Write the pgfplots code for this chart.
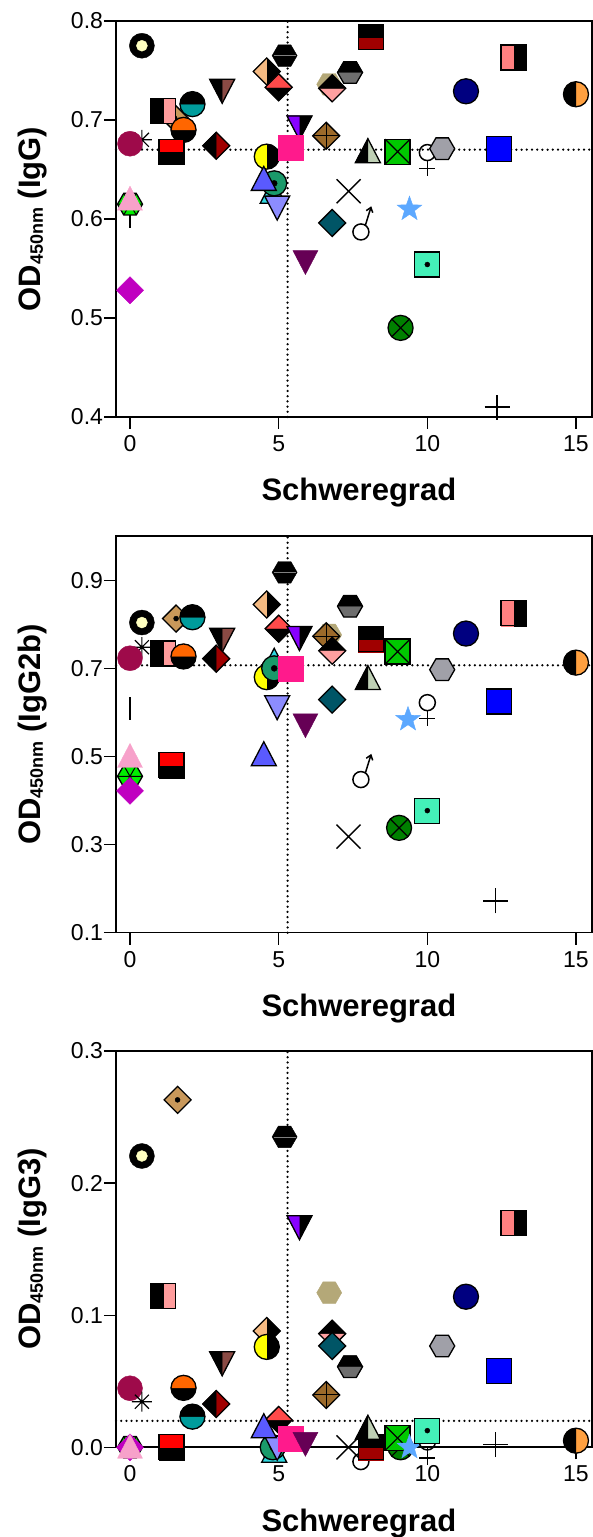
\documentclass[border=0pt]{standalone}
\usepackage{pgfplots}
\pgfplotsset{compat=1.18}
\usepackage{fontspec}
\setmainfont{Liberation Sans}
\usepackage{graphicx}

\definecolor{cRing}{HTML}{FFFFC0}
\definecolor{cMaroon}{HTML}{9E0A4A}
\definecolor{cSalmonL}{HTML}{FF9C9C}
\definecolor{cTanDot}{HTML}{C9985A}
\definecolor{cTeal}{HTML}{009C9C}
\definecolor{cOrange}{HTML}{FF6600}
\definecolor{cRed}{HTML}{FF0000}
\definecolor{cDarkRed}{HTML}{A00000}
\definecolor{cBrownT}{HTML}{8A4A44}
\definecolor{cTanL}{HTML}{F5BA82}
\definecolor{cRedL}{HTML}{FF4A4A}
\definecolor{cYellow}{HTML}{FFFF00}
\definecolor{cDeepPink}{HTML}{FF1A8C}
\definecolor{cBlueTri}{HTML}{5A5AFF}
\definecolor{cGreenDot}{HTML}{1A9A6A}
\definecolor{cCyan}{HTML}{30D8E0}
\definecolor{cLightBlue}{HTML}{8C8CFF}
\definecolor{cViolet}{HTML}{8800FF}
\definecolor{cPurple}{HTML}{660055}
\definecolor{cPinkTri}{HTML}{F7A1CA}
\definecolor{cBrightGreen}{HTML}{00EE00}
\definecolor{cMagenta}{HTML}{C000C0}
\definecolor{cSalmon}{HTML}{FF8080}
\definecolor{cNavy}{HTML}{000080}
\definecolor{cOrangeL}{HTML}{FFA040}
\definecolor{cGreyD}{HTML}{6E6E6E}
\definecolor{cTanHex}{HTML}{B4A878}
\definecolor{cPinkD}{HTML}{FFA0A0}
\definecolor{cBrown}{HTML}{9C6A2A}
\definecolor{cSage}{HTML}{BFD0B5}
\definecolor{cGreenSq}{HTML}{00C800}
\definecolor{cGreyHex}{HTML}{A0A0A8}
\definecolor{cBlue}{HTML}{0000FF}
\definecolor{cTealD}{HTML}{005566}
\definecolor{cStar}{HTML}{5CA8FF}
\definecolor{cAqua}{HTML}{44F0B8}
\definecolor{cGreenX}{HTML}{008000}

\tikzset{bd/.style={draw=black,line width=1.3pt}}
\newcommand\mk[1]{\begin{scope}[x=1pt,y=1pt]#1\end{scope}}
\def\SQ{(-12.5,-12.5) rectangle (12.5,12.5)}
\def\DI{(0,13.5)--(13.5,0)--(0,-13.5)--(-13.5,0)--cycle}
\def\DL{(0,13.5)--(-13.5,0)--(0,-13.5)--cycle}
\def\DT{(-13.5,0)--(0,13.5)--(13.5,0)--cycle}
\def\TU{(-12.5,-11)--(12.5,-11)--(0,13)--cycle}
\def\TUL{(-12.5,-11)--(0,-11)--(0,13)--cycle}
\def\TD{(-12.5,11)--(12.5,11)--(0,-13)--cycle}
\def\TDL{(-12.5,11)--(0,11)--(0,-13)--cycle}
\def\HX{(12.5,0)--(6.25,10.8)--(-6.25,10.8)--(-12.5,0)--(-6.25,-10.8)--(6.25,-10.8)--cycle}
\def\HXT{(12.5,0)--(6.25,10.8)--(-6.25,10.8)--(-12.5,0)--cycle}
\def\CI{(0,0) circle (12.5)}
\def\CT{(12.5,0) arc[start angle=0,end angle=180,radius=12.5]--cycle}
\def\CL{(0,12.5) arc[start angle=90,end angle=270,radius=12.5]--cycle}

\pgfdeclareplotmark{ring}{\mk{\fill[black]\CI; \fill[cRing](0,0) circle (5.5);}}
\pgfdeclareplotmark{maroonC}{\mk{\fill[cMaroon]\CI;}}
\pgfdeclareplotmark{sqBP}{\mk{\fill[cSalmonL]\SQ; \fill[black](-12.5,-12.5) rectangle (0,12.5); \draw[bd]\SQ;}}
\pgfdeclareplotmark{tanDiaDot}{\mk{\filldraw[fill=cTanDot,bd]\DI; \fill[black](0,0) circle (2.5);}}
\pgfdeclareplotmark{cBT}{\mk{\fill[cTeal]\CI; \fill[black]\CT; \draw[bd]\CI;}}
\pgfdeclareplotmark{cOB}{\mk{\fill[black]\CI; \fill[cOrange]\CT; \draw[bd]\CI;}}
\pgfdeclareplotmark{sqRB}{\mk{\fill[black]\SQ; \fill[cRed](-12.5,0) rectangle (12.5,12.5); \draw[bd]\SQ;}}
\pgfdeclareplotmark{dBR}{\mk{\fill[cDarkRed]\DI; \fill[black]\DL; \draw[bd]\DI;}}
\pgfdeclareplotmark{tdBB}{\mk{\fill[cBrownT]\TD; \fill[black]\TDL; \draw[bd]\TD;}}
\pgfdeclareplotmark{dTB}{\mk{\fill[black]\DI; \fill[cTanL]\DL; \draw[bd]\DI;}}
\pgfdeclareplotmark{hexBlk}{\mk{\fill[black]\HX; \draw[line width=0.6pt,gray](-11,0)--(11,0);}}
\pgfdeclareplotmark{dRB}{\mk{\fill[black]\DI; \fill[cRedL]\DT; \draw[bd]\DI;}}
\pgfdeclareplotmark{cYB}{\mk{\fill[black]\CI; \fill[cYellow]\CL; \draw[bd]\CI;}}
\pgfdeclareplotmark{pinkSq}{\mk{\fill[cDeepPink]\SQ;}}
\pgfdeclareplotmark{triBlue}{\mk{\filldraw[fill=cBlueTri,bd]\TU;}}
\pgfdeclareplotmark{cGreenDot}{\mk{\filldraw[fill=cGreenDot,bd]\CI; \fill[black](0,0) circle (3);}}
\pgfdeclareplotmark{triCyan}{\mk{\filldraw[fill=cCyan,bd]\TU;}}
\pgfdeclareplotmark{tdLB}{\mk{\filldraw[fill=cLightBlue,bd]\TD;}}
\pgfdeclareplotmark{tdVB}{\mk{\fill[black]\TD; \fill[cViolet]\TDL; \draw[bd]\TD;}}
\pgfdeclareplotmark{tdPurple}{\mk{\fill[cPurple]\TD;}}
\pgfdeclareplotmark{triPink}{\mk{\fill[cPinkTri]\TU;}}
\pgfdeclareplotmark{hexGreen}{\mk{\filldraw[fill=cBrightGreen,bd]\HX; \draw[line width=1pt](-12.5,0)--(12.5,0) (-6.25,10.8)--(6.25,-10.8) (6.25,10.8)--(-6.25,-10.8);}}
\pgfdeclareplotmark{bar}{\mk{\draw[line width=1.4pt](0,-11.5)--(0,11.5);}}
\pgfdeclareplotmark{dMag}{\mk{\fill[cMagenta]\DI;}}
\pgfdeclareplotmark{sqBDR}{\mk{\fill[cDarkRed]\SQ; \fill[black](-12.5,0) rectangle (12.5,12.5); \draw[bd]\SQ;}}
\pgfdeclareplotmark{sqSB}{\mk{\fill[black]\SQ; \fill[cSalmon](-12.5,-12.5) rectangle (0,12.5); \draw[bd]\SQ;}}
\pgfdeclareplotmark{navy}{\mk{\filldraw[fill=cNavy,bd]\CI;}}
\pgfdeclareplotmark{cBO}{\mk{\fill[cOrangeL]\CI; \fill[black]\CL; \draw[bd]\CI;}}
\pgfdeclareplotmark{hexBG}{\mk{\fill[cGreyD]\HX; \fill[black]\HXT; \draw[bd]\HX;}}
\pgfdeclareplotmark{hexTan}{\mk{\fill[cTanHex]\HX;}}
\pgfdeclareplotmark{hexGrey}{\mk{\filldraw[fill=cGreyHex,bd]\HX;}}
\pgfdeclareplotmark{sqBlue}{\mk{\filldraw[fill=cBlue,bd]\SQ;}}
\pgfdeclareplotmark{dBP}{\mk{\fill[cPinkD]\DI; \fill[black]\DT; \draw[bd]\DI;}}
\pgfdeclareplotmark{dBrownCross}{\mk{\filldraw[fill=cBrown,bd]\DI; \draw[line width=1pt](-13.5,0)--(13.5,0) (0,-13.5)--(0,13.5);}}
\pgfdeclareplotmark{tBS}{\mk{\fill[cSage]\TU; \fill[black]\TUL; \draw[bd]\TU;}}
\pgfdeclareplotmark{sqGreenX}{\mk{\filldraw[fill=cGreenSq,bd]\SQ; \draw[line width=1.2pt](-12.5,-12.5)--(12.5,12.5) (-12.5,12.5)--(12.5,-12.5);}}
\pgfdeclareplotmark{female}{\mk{\draw[line width=1.5pt](0,8) circle (8); \draw[line width=1.5pt](0,0)--(0,-15.5) (-8,-8)--(8,-8);}}
\pgfdeclareplotmark{male}{\mk{\draw[line width=1.5pt](-1,-9) circle (8); \draw[line width=1.5pt](3.5,-2.2)--(9,15.5); \draw[line width=1.5pt](4.3,12.3)--(9,15.5)--(10.8,10.2);}}
\pgfdeclareplotmark{xcross}{\mk{\draw[line width=1.4pt](-12,-12)--(12,12) (-12,12)--(12,-12);}}
\pgfdeclareplotmark{dTeal}{\mk{\filldraw[fill=cTealD,bd]\DI;}}
\pgfdeclareplotmark{starB}{\mk{\fill[cStar](90:13)--(126:5.3)--(162:13)--(198:5.3)--(234:13)--(270:5.3)--(306:13)--(342:5.3)--(18:13)--(54:5.3)--cycle;}}
\pgfdeclareplotmark{sqAquaDot}{\mk{\filldraw[fill=cAqua,bd]\SQ; \fill[black](0,0) circle (2.5);}}
\pgfdeclareplotmark{cGreenX}{\mk{\filldraw[fill=cGreenX,bd]\CI; \draw[line width=1.2pt](-8.8,-8.8)--(8.8,8.8) (-8.8,8.8)--(8.8,-8.8);}}
\pgfdeclareplotmark{plusB}{\mk{\draw[line width=1.5pt](-12.5,0)--(12.5,0) (0,-12.5)--(0,12.5);}}
\pgfdeclareplotmark{aster}{\mk{\draw[line width=1.2pt](-10,0)--(10,0) (0,-10)--(0,10) (-7,-7)--(7,7) (-7,7)--(7,-7);}}

\newcommand\sbj[2]{\addplot[only marks, mark=#1] coordinates {#2};}

\pgfplotsset{myax/.style={
  scale only axis, width=475.75pt, clip=false,
  xmin=-0.4709, xmax=15.53,
  xtick={0,5,10,15},
  tick pos=left, tick align=outside, major tick length=12pt,
  tick style={line width=1.3pt, black},
  axis line style={line width=1.6pt},
  every tick label/.append style={font=\fontsize{23}{23}\selectfont},
  xticklabel style={yshift=-3pt},
  yticklabel style={xshift=2.5pt},
  /pgf/number format/assume math mode=true,
  yticklabel style={/pgf/number format/fixed,/pgf/number format/fixed zerofill,/pgf/number format/precision=1},
  xlabel={Schweregrad},
  every axis x label/.style={at={(axis description cs:0.5105,-0.192)}, anchor=center, font=\fontsize{31}{31}\selectfont\bfseries},
  every axis y label/.style={at={(axis description cs:-0.1745,0.5)}, rotate=90, anchor=center, font=\fontsize{31}{31}\selectfont\bfseries},
}}
\newcommand\odlab[1]{OD\raisebox{-2pt}{\fontsize{18}{18}\selectfont 450nm} (#1)}
\newcommand\dotline[2]{\addplot[black, line width=2.5pt, dash pattern=on 0pt off 5.2pt, line cap=round] coordinates {#1 #2};}

\begin{document}
\begin{tikzpicture}
\useasboundingbox (0,0) rectangle (593pt,1537pt);
% ---------------- Panel 1: IgG
\begin{axis}[myax, at={(116pt,1120pt)}, anchor=south west, height=396pt,
  ymin=0.4, ymax=0.8, ytick={0.4,0.5,0.6,0.7,0.8}, ylabel={\odlab{IgG}}]
\dotline{(5.3,0.4)}{(5.3,0.8)}
\dotline{(-0.4709,0.67)}{(15.53,0.67)}
\sbj{ring}{(0.4,0.775)}
\sbj{aster}{(0.4,0.68)}
\sbj{maroonC}{(0,0.676)}
\sbj{tanDiaDot}{(1.5,0.702)}
\sbj{sqBP}{(1.1,0.709)}
\sbj{cBT}{(2.1,0.716)}
\sbj{cOB}{(1.8,0.69)}
\sbj{sqRB}{(1.4,0.668)}
\sbj{dBR}{(2.9,0.674)}
\sbj{tdBB}{(3.1,0.73)}
\sbj{hexBlk}{(5.2,0.765)}
\sbj{dTB}{(4.6,0.749)}
\sbj{dRB}{(5.0,0.733)}
\sbj{cYB}{(4.6,0.663)}
\sbj{triCyan}{(4.8,0.627)}
\sbj{tdLB}{(4.95,0.612)}
\sbj{cGreenDot}{(4.85,0.636)}
\sbj{triBlue}{(4.5,0.64)}
\sbj{tdVB}{(5.7,0.693)}
\sbj{pinkSq}{(5.4,0.672)}
\sbj{tdPurple}{(5.9,0.557)}
\sbj{bar}{(0,0.603)}
\sbj{hexGreen}{(0,0.615)}
\sbj{dMag}{(0,0.528)}
\sbj{triPink}{(0,0.62)}
\sbj{sqBDR}{(8.1,0.784)}
\sbj{sqSB}{(12.9,0.763)}
\sbj{navy}{(11.3,0.729)}
\sbj{cBO}{(15,0.726)}
\sbj{hexBG}{(7.4,0.748)}
\sbj{hexTan}{(6.7,0.736)}
\sbj{dBP}{(6.8,0.732)}
\sbj{dBrownCross}{(6.6,0.684)}
\sbj{tBS}{(8.0,0.668)}
\sbj{sqGreenX}{(9.0,0.668)}
\sbj{female}{(10.0,0.659)}
\sbj{hexGrey}{(10.5,0.671)}
\sbj{sqBlue}{(12.4,0.671)}
\sbj{xcross}{(7.35,0.628)}
\sbj{dTeal}{(6.8,0.596)}
\sbj{male}{(7.8,0.596)}
\sbj{starB}{(9.4,0.61)}
\sbj{sqAquaDot}{(10.0,0.554)}
\sbj{cGreenX}{(9.1,0.49)}
\sbj{plusB}{(12.35,0.41)}
\end{axis}
% ---------------- Panel 2: IgG2b
\begin{axis}[myax, at={(116pt,604.3pt)}, anchor=south west, height=396.5pt,
  ymin=0.1, ymax=1.0, ytick={0.1,0.3,0.5,0.7,0.9}, ylabel={\odlab{IgG2b}}]
\dotline{(5.3,0.1)}{(5.3,1.0)}
\dotline{(-0.4709,0.707)}{(15.53,0.707)}
\sbj{ring}{(0.4,0.804)}
\sbj{aster}{(0.4,0.748)}
\sbj{maroonC}{(0,0.723)}
\sbj{tanDiaDot}{(1.55,0.813)}
\sbj{sqBP}{(1.1,0.734)}
\sbj{cBT}{(2.1,0.816)}
\sbj{cOB}{(1.8,0.727)}
\sbj{sqRB}{(1.4,0.48)}
\sbj{tdBB}{(3.1,0.766)}
\sbj{dBR}{(2.9,0.722)}
\sbj{hexBlk}{(5.2,0.918)}
\sbj{dTB}{(4.6,0.845)}
\sbj{dRB}{(5.0,0.79)}
\sbj{triCyan}{(4.85,0.716)}
\sbj{cYB}{(4.6,0.68)}
\sbj{cGreenDot}{(4.85,0.70)}
\sbj{tdLB}{(4.95,0.613)}
\sbj{triBlue}{(4.5,0.504)}
\sbj{tdVB}{(5.7,0.77)}
\sbj{pinkSq}{(5.4,0.70)}
\sbj{tdPurple}{(5.9,0.572)}
\sbj{bar}{(0,0.61)}
\sbj{hexGreen}{(0,0.455)}
\sbj{dMag}{(0,0.422)}
\sbj{triPink}{(0,0.50)}
\sbj{sqBDR}{(8.1,0.766)}
\sbj{sqSB}{(12.9,0.825)}
\sbj{navy}{(11.3,0.779)}
\sbj{cBO}{(15,0.713)}
\sbj{hexBG}{(7.4,0.841)}
\sbj{hexTan}{(6.7,0.776)}
\sbj{dBrownCross}{(6.6,0.773)}
\sbj{dBP}{(6.8,0.74)}
\sbj{tBS}{(8.0,0.677)}
\sbj{sqGreenX}{(9.0,0.738)}
\sbj{female}{(10.0,0.604)}
\sbj{hexGrey}{(10.5,0.697)}
\sbj{sqBlue}{(12.4,0.625)}
\sbj{xcross}{(7.35,0.318)}
\sbj{dTeal}{(6.8,0.629)}
\sbj{male}{(7.8,0.468)}
\sbj{starB}{(9.35,0.584)}
\sbj{sqAquaDot}{(10.0,0.377)}
\sbj{cGreenX}{(9.05,0.338)}
\sbj{plusB}{(12.3,0.172)}
\end{axis}
% ---------------- Panel 3: IgG3
\begin{axis}[myax, at={(116pt,89.7pt)}, anchor=south west, height=396.3pt,
  ymin=0, ymax=0.3, ytick={0,0.1,0.2,0.3}, ylabel={\odlab{IgG3}}]
\dotline{(5.3,0)}{(5.3,0.3)}
\dotline{(-0.4709,0.02)}{(15.53,0.02)}
\sbj{ring}{(0.4,0.2205)}
\sbj{maroonC}{(0,0.0447)}
\sbj{aster}{(0.4,0.0345)}
\sbj{tanDiaDot}{(1.6,0.263)}
\sbj{sqBP}{(1.1,0.1145)}
\sbj{cBT}{(2.1,0.0232)}
\sbj{cOB}{(1.8,0.045)}
\sbj{sqRB}{(1.4,0.0)}
\sbj{tdBB}{(3.1,0.064)}
\sbj{dBR}{(2.9,0.0328)}
\sbj{hexBlk}{(5.2,0.235)}
\sbj{dTB}{(4.6,0.088)}
\sbj{cYB}{(4.6,0.076)}
\sbj{dRB}{(5.0,0.0207)}
\sbj{triCyan}{(4.85,-0.003)}
\sbj{cGreenDot}{(4.8,0.0)}
\sbj{tdLB}{(4.95,0.0)}
\sbj{triBlue}{(4.5,0.0156)}
\sbj{pinkSq}{(5.4,0.0068)}
\sbj{tdVB}{(5.7,0.167)}
\sbj{tdPurple}{(5.9,0.003)}
\sbj{bar}{(0,0.0)}
\sbj{hexGreen}{(0,0.0)}
\sbj{dMag}{(0,0.0)}
\sbj{triPink}{(0,0.0)}
\sbj{sqSB}{(12.9,0.170)}
\sbj{navy}{(11.3,0.114)}
\sbj{cBO}{(15,0.005)}
\sbj{hexTan}{(6.7,0.117)}
\sbj{dBP}{(6.8,0.086)}
\sbj{dTeal}{(6.8,0.0767)}
\sbj{hexBG}{(7.4,0.061)}
\sbj{dBrownCross}{(6.6,0.0396)}
\sbj{hexGrey}{(10.5,0.0767)}
\sbj{sqBlue}{(12.4,0.058)}
\sbj{xcross}{(7.35,0.0)}
\sbj{male}{(7.8,-0.004)}
\sbj{sqBDR}{(8.1,0.0)}
\sbj{tBS}{(8.0,0.0144)}
\sbj{cGreenX}{(9.1,0.0)}
\sbj{sqGreenX}{(9.0,0.007)}
\sbj{starB}{(9.4,0.0)}
\sbj{female}{(10.0,-0.002)}
\sbj{sqAquaDot}{(10.0,0.0126)}
\sbj{plusB}{(12.3,0.002)}
\end{axis}
\end{tikzpicture}
\end{document}
